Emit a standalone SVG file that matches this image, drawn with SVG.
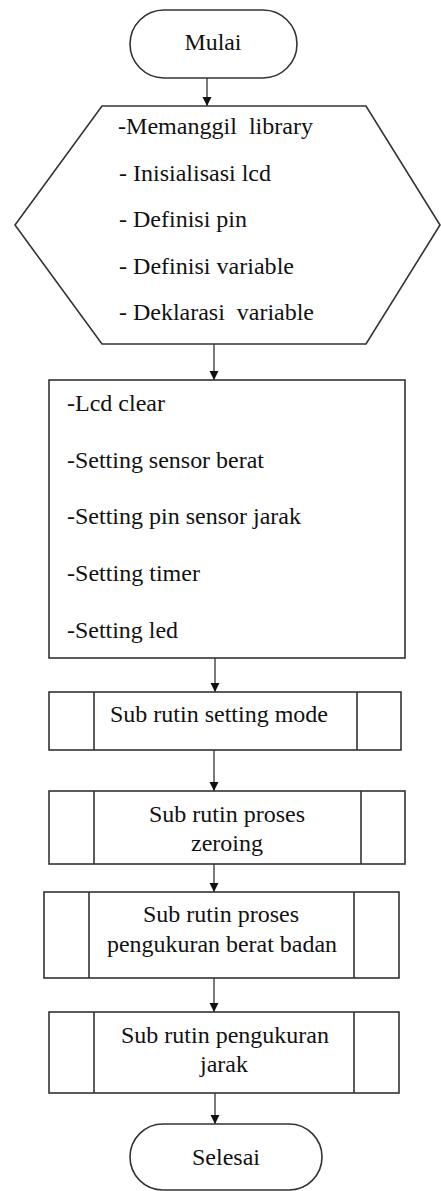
<svg xmlns="http://www.w3.org/2000/svg" width="441" height="1191" viewBox="0 0 441 1191">
<style>
.s{fill:#fff;stroke:#333;stroke-width:1.6}
.t{font-family:'Liberation Serif','DejaVu Serif',serif;font-size:24px;fill:#111}
.m{text-anchor:middle}
.c{stroke:#333;stroke-width:1.3;fill:none;marker-end:url(#ah)}
</style>
<defs>
<marker id="ah" markerUnits="userSpaceOnUse" markerWidth="10" markerHeight="10" refX="9" refY="5" orient="auto">
<path d="M0,0.5 L9,5 L0,9.5 Z" fill="#111"/>
</marker>
</defs>
<rect width="441" height="1191" fill="#fff"/>
<g id="connectors">
<line class="c" x1="207" y1="78" x2="207" y2="106"/>
<line class="c" x1="214" y1="344" x2="214" y2="380"/>
<line class="c" x1="215" y1="658" x2="215" y2="692"/>
<line class="c" x1="214" y1="750" x2="214" y2="791"/>
<line class="c" x1="214" y1="864" x2="214" y2="892"/>
<line class="c" x1="214" y1="978" x2="214" y2="1012"/>
<line class="c" x1="215" y1="1093" x2="215" y2="1124"/>
</g>
<g id="mulai">
<rect class="s" x="130" y="10" width="167" height="68" rx="34"/>
<text class="t m" x="213" y="50" textLength="57" lengthAdjust="spacingAndGlyphs">Mulai</text>
</g>
<g id="init">
<polygon class="s" points="102,106 366,106 440,225 366,344 102,344 15,225"/>
<text class="t" x="118" y="134" xml:space="preserve" textLength="195" lengthAdjust="spacingAndGlyphs">-Memanggil  library</text>
<text class="t" x="119" y="181" textLength="152" lengthAdjust="spacingAndGlyphs">- Inisialisasi lcd</text>
<text class="t" x="119" y="227" textLength="128" lengthAdjust="spacingAndGlyphs">- Definisi pin</text>
<text class="t" x="119" y="274" textLength="175" lengthAdjust="spacingAndGlyphs">- Definisi variable</text>
<text class="t" x="119" y="320" xml:space="preserve" textLength="195" lengthAdjust="spacingAndGlyphs">- Deklarasi  variable</text>
</g>
<g id="setup">
<rect class="s" x="49" y="380" width="356" height="278"/>
<text class="t" x="67" y="411" textLength="98" lengthAdjust="spacingAndGlyphs">-Lcd clear</text>
<text class="t" x="67" y="468" textLength="197" lengthAdjust="spacingAndGlyphs">-Setting sensor berat</text>
<text class="t" x="67" y="524" textLength="234" lengthAdjust="spacingAndGlyphs">-Setting pin sensor jarak</text>
<text class="t" x="67" y="581" textLength="133" lengthAdjust="spacingAndGlyphs">-Setting timer</text>
<text class="t" x="67" y="638" textLength="111" lengthAdjust="spacingAndGlyphs">-Setting led</text>
</g>
<g id="sub1">
<rect class="s" x="49" y="692" width="352" height="58"/>
<line class="s" x1="94" y1="692" x2="94" y2="750"/>
<line class="s" x1="357" y1="692" x2="357" y2="750"/>
<text class="t m" x="219" y="722" textLength="218" lengthAdjust="spacingAndGlyphs">Sub rutin setting mode</text>
</g>
<g id="sub2">
<rect class="s" x="49" y="791" width="356" height="73"/>
<line class="s" x1="94" y1="791" x2="94" y2="864"/>
<line class="s" x1="361" y1="791" x2="361" y2="864"/>
<text class="t m" x="227" y="822" textLength="156" lengthAdjust="spacingAndGlyphs">Sub rutin proses</text>
<text class="t m" x="227" y="851" textLength="72" lengthAdjust="spacingAndGlyphs">zeroing</text>
</g>
<g id="sub3">
<rect class="s" x="44" y="892" width="355" height="86"/>
<line class="s" x1="89" y1="892" x2="89" y2="978"/>
<line class="s" x1="354" y1="892" x2="354" y2="978"/>
<text class="t m" x="221" y="922" textLength="156" lengthAdjust="spacingAndGlyphs">Sub rutin proses</text>
<text class="t m" x="222" y="952" textLength="230" lengthAdjust="spacingAndGlyphs">pengukuran berat badan</text>
</g>
<g id="sub4">
<rect class="s" x="49" y="1012" width="350" height="81"/>
<line class="s" x1="94" y1="1012" x2="94" y2="1093"/>
<line class="s" x1="354" y1="1012" x2="354" y2="1093"/>
<text class="t m" x="225" y="1043" textLength="208" lengthAdjust="spacingAndGlyphs">Sub rutin pengukuran</text>
<text class="t m" x="224" y="1072" textLength="48" lengthAdjust="spacingAndGlyphs">jarak</text>
</g>
<g id="selesai">
<rect class="s" x="130" y="1124" width="192" height="66" rx="33"/>
<text class="t m" x="226" y="1165" textLength="68" lengthAdjust="spacingAndGlyphs">Selesai</text>
</g>
</svg>
